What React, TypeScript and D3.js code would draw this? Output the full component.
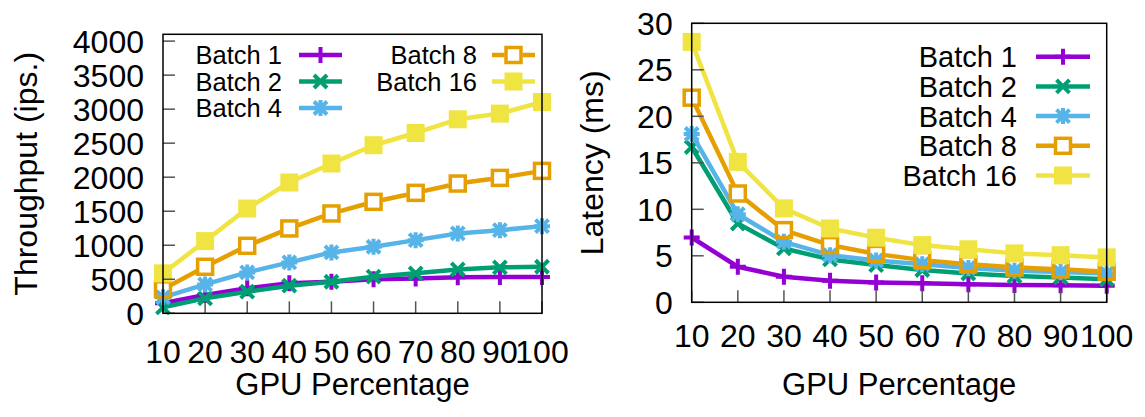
import React from "react";
import * as d3 from "d3";

// x categories (GPU percentage)
const gpuPercent = [10, 20, 30, 40, 50, 60, 70, 80, 90, 100];

const batchNames = ["Batch 1", "Batch 2", "Batch 4", "Batch 8", "Batch 16"];
const batchColors = ["#9400d3", "#009e73", "#56b4e9", "#e69f00", "#f0e442"];
const batchMarkers = ["plus", "cross", "star", "openSquare", "filledSquare"];

// throughput (ips.)
const throughputBatch1 = [147, 268, 367, 440, 464, 499, 513, 528, 532, 532];
const throughputBatch2 = [88, 220, 318, 406, 464, 538, 587, 645, 675, 684];
const throughputBatch4 = [235, 425, 601, 748, 895, 978, 1075, 1174, 1222, 1281];
const throughputBatch8 = [352, 684, 992, 1247, 1467, 1638, 1770, 1907, 1990, 2093];
const throughputBatch16 = [587, 1061, 1540, 1922, 2201, 2470, 2650, 2851, 2935, 3105];

// latency (ms)
const latencyBatch1 = [6.97, 3.82, 2.75, 2.32, 2.14, 2.04, 1.93, 1.86, 1.82, 1.78];
const latencyBatch2 = [16.7, 8.47, 5.79, 4.61, 4.0, 3.47, 3.1, 2.82, 2.68, 2.47];
const latencyBatch4 = [18.1, 9.47, 6.5, 5.07, 4.5, 4.1, 3.7, 3.4, 3.25, 3.1];
const latencyBatch8 = [22.0, 11.7, 7.76, 6.15, 5.2, 4.54, 4.1, 3.75, 3.54, 3.29];
const latencyBatch16 = [28.0, 15.1, 10.1, 7.94, 6.95, 6.15, 5.7, 5.26, 5.07, 4.83];

const throughputTicks = [0, 500, 1000, 1500, 2000, 2500, 3000, 3500, 4000];
const latencyTicks = [0, 5, 10, 15, 20, 25, 30];

const FONT = "'Liberation Sans', Arial, Helvetica, sans-serif";
const LINE_W = 4.5;
const TICK_FONT = 32;

function Marker({ kind, x, y, color }: { kind: string; x: number; y: number; color: string }) {
  const a = 8;
  const c = 6.5;
  if (kind === "plus") {
    return (
      <path d={`M${x - a},${y}H${x + a}M${x},${y - a}V${y + a}`} stroke={color} strokeWidth={4} fill="none" />
    );
  }
  if (kind === "cross") {
    return (
      <path d={`M${x - c},${y - c}L${x + c},${y + c}M${x - c},${y + c}L${x + c},${y - c}`} stroke={color} strokeWidth={4} fill="none" />
    );
  }
  if (kind === "star") {
    return (
      <path
        d={`M${x - a},${y}H${x + a}M${x},${y - a}V${y + a}M${x - c},${y - c}L${x + c},${y + c}M${x - c},${y + c}L${x + c},${y - c}`}
        stroke={color}
        strokeWidth={4}
        fill="none"
      />
    );
  }
  if (kind === "openSquare") {
    return <rect x={x - 7.5} y={y - 7.5} width={15} height={15} stroke={color} strokeWidth={3.5} fill="none" />;
  }
  return <rect x={x - 9} y={y - 9} width={18} height={18} fill={color} />;
}

// line with gaps round hollow points (gnuplot pointinterval -1 look)
function gappedSegments(pts: [number, number][], gap: number) {
  const segs: string[] = [];
  for (let i = 0; i < pts.length - 1; i++) {
    const [x0, y0] = pts[i];
    const [x1, y1] = pts[i + 1];
    const len = Math.hypot(x1 - x0, y1 - y0);
    const ux = (x1 - x0) / len;
    const uy = (y1 - y0) / len;
    segs.push(`M${x0 + ux * gap},${y0 + uy * gap}L${x1 - ux * gap},${y1 - uy * gap}`);
  }
  return segs.join("");
}

type LegendCol = { textRight: number; sx0: number; sx1: number; items: number[] };

function Panel({
  series,
  yMax,
  yTicks,
  left,
  right,
  top,
  bottom,
  yLabel,
  yLabelX,
  xTickBase,
  legendCols,
  legendY0,
  legendStep,
  legendFont,
}: {
  series: number[][];
  yMax: number;
  yTicks: number[];
  left: number;
  right: number;
  top: number;
  bottom: number;
  yLabel: string;
  yLabelX: number;
  xTickBase: number;
  legendCols: LegendCol[];
  legendY0: number;
  legendStep: number;
  legendFont: number;
}) {
  const x = d3.scaleLinear().domain([10, 100]).range([left, right]);
  const y = d3.scaleLinear().domain([0, yMax]).range([bottom, top]);
  const lineGen = d3
    .line<number>()
    .x((_, i) => x(gpuPercent[i]))
    .y((d) => y(d));
  const tickLen = 12;
  const midY = (top + bottom) / 2;

  return (
    <g fontFamily={FONT}>
      {series.map((vals, si) => {
        const pts = vals.map((v, i) => [x(gpuPercent[i]), y(v)] as [number, number]);
        const d = batchMarkers[si] === "openSquare" ? gappedSegments(pts, 9) : lineGen(vals) || "";
        return (
          <g key={si}>
            <path d={d} fill="none" stroke={batchColors[si]} strokeWidth={LINE_W} strokeLinejoin="round" />
            {pts.map(([px, py], i) => (
              <Marker key={i} kind={batchMarkers[si]} x={px} y={py} color={batchColors[si]} />
            ))}
          </g>
        );
      })}

      {/* ticks */}
      {yTicks.map((t) => (
        <g key={t}>
          <line x1={left} x2={left + tickLen} y1={y(t)} y2={y(t)} stroke="#555" strokeWidth={1.5} />
          <text x={left - 19} y={y(t)} dy="0.36em" textAnchor="end" fontSize={TICK_FONT} fill="#000">
            {t}
          </text>
        </g>
      ))}
      {gpuPercent.map((t) => (
        <g key={t}>
          <line x1={x(t)} x2={x(t)} y1={bottom} y2={bottom - tickLen} stroke="#555" strokeWidth={1.5} />
          <text x={x(t)} y={xTickBase} textAnchor="middle" fontSize={TICK_FONT} fill="#000">
            {t}
          </text>
        </g>
      ))}
      <rect x={left} y={top} width={right - left} height={bottom - top} fill="none" stroke="#000" strokeWidth={1.5} />

      {/* axis labels */}
      <text x={(left + right) / 2} y={395} textAnchor="middle" fontSize={31}>
        GPU Percentage
      </text>
      <text transform={`translate(${yLabelX},${midY}) rotate(-90)`} textAnchor="middle" fontSize={32}>
        {yLabel}
      </text>

      {/* legend */}
      {legendCols.map((col, ci) =>
        col.items.map((si, ri) => {
          const ly = legendY0 + ri * legendStep;
          const mx = (col.sx0 + col.sx1) / 2;
          return (
            <g key={`${ci}-${si}`}>
              <text x={col.textRight} y={ly} dy="0.36em" textAnchor="end" fontSize={legendFont}>
                {batchNames[si]}
              </text>
              {batchMarkers[si] === "openSquare" ? (
                <path d={`M${col.sx0},${ly}H${mx - 9}M${mx + 9},${ly}H${col.sx1}`} stroke={batchColors[si]} strokeWidth={LINE_W} />
              ) : (
                <line x1={col.sx0} x2={col.sx1} y1={ly} y2={ly} stroke={batchColors[si]} strokeWidth={LINE_W} />
              )}
              <Marker kind={batchMarkers[si]} x={mx} y={ly} color={batchColors[si]} />
            </g>
          );
        })
      )}
    </g>
  );
}

export default function App() {
  const throughput = [throughputBatch1, throughputBatch2, throughputBatch4, throughputBatch8, throughputBatch16];
  const latency = [latencyBatch1, latencyBatch2, latencyBatch4, latencyBatch8, latencyBatch16];
  return (
    <svg width={1145} height={417} style={{ position: "absolute", left: 0, top: 0, background: "#fff" }}>
      <Panel
        series={throughput}
        yMax={4100}
        yTicks={throughputTicks}
        left={163}
        right={542}
        top={34.3}
        bottom={313.3}
        yLabel="Throughput (ips.)"
        yLabelX={37}
        xTickBase={363}
        legendCols={[
          { textRight: 282, sx0: 299, sx1: 342, items: [0, 1, 2] },
          { textRight: 477, sx0: 492, sx1: 535, items: [3, 4] },
        ]}
        legendY0={55}
        legendStep={26.5}
        legendFont={25.5}
      />
      <Panel
        series={latency}
        yMax={30}
        yTicks={latencyTicks}
        left={691.7}
        right={1106.7}
        top={23.3}
        bottom={302.3}
        yLabel="Latency (ms)"
        yLabelX={603}
        xTickBase={347}
        legendCols={[{ textRight: 1017, sx0: 1036, sx1: 1090, items: [0, 1, 2, 3, 4] }]}
        legendY0={56.7}
        legendStep={29.7}
        legendFont={29}
      />
    </svg>
  );
}
